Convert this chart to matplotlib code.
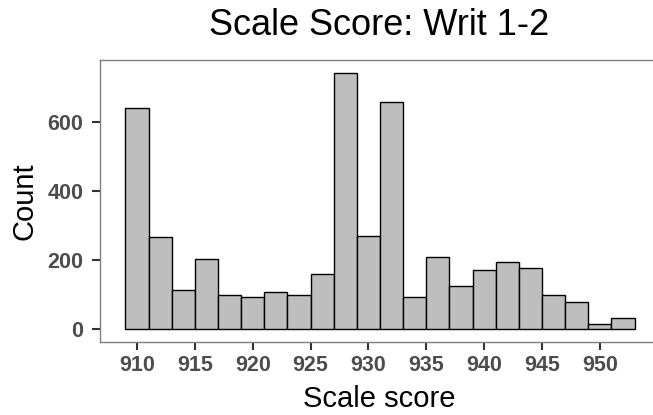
import matplotlib.pyplot as plt
import numpy as np

# histogram bins (binwidth 2, starting at 909)
bin_edges = np.arange(909, 955, 2)
counts = [641, 268, 113, 204, 98, 93, 108, 99, 161, 742, 270,
          657, 93, 209, 126, 170, 194, 176, 99, 78, 16, 32]
x_ticks = [910, 915, 920, 925, 930, 935, 940, 945, 950]
y_ticks = [0, 200, 400, 600]

plt.rcParams['font.family'] = ['Liberation Sans', 'DejaVu Sans']

fig = plt.figure(figsize=(6.53, 4.15), dpi=100)
W, H = 653, 415
# panel runs a little past the right edge, like the cropped original
ax = fig.add_axes([100 / W, 1 - 342 / H, 560 / W, 282 / H])

ax.bar(bin_edges[:-1], counts, width=2, align='edge',
       color='#bebebe', edgecolor='black', linewidth=1.0)

ax.set_xlim(906.8, 955.2)
ax.set_ylim(-37, 779)
ax.set_xticks(x_ticks)
ax.set_yticks(y_ticks)

for s in ['left', 'bottom', 'top', 'right']:
    ax.spines[s].set_color('#7f7f7f')
    ax.spines[s].set_linewidth(1.0)

ax.tick_params(axis='both', length=5.5, width=1.5, color='#333333',
               labelsize=15.5, labelcolor='#4d4d4d')
ax.tick_params(axis='y', pad=6.5)
ax.tick_params(axis='x', pad=4)
for lab in ax.get_xticklabels() + ax.get_yticklabels():
    lab.set_fontweight('bold')

# titles placed in figure pixels to match the reference
fig.text(379 / W, 1 - 35 / H, 'Scale Score: Writ 1-2', fontsize=26,
         ha='center', va='baseline')
fig.text(379 / W, 1 - 407 / H, 'Scale score', fontsize=21,
         ha='center', va='baseline')
fig.text(33 / W, 1 - 201 / H, 'Count', fontsize=21, rotation=90,
         rotation_mode='anchor', ha='center', va='baseline')

fig.savefig('out.png', dpi=100)
